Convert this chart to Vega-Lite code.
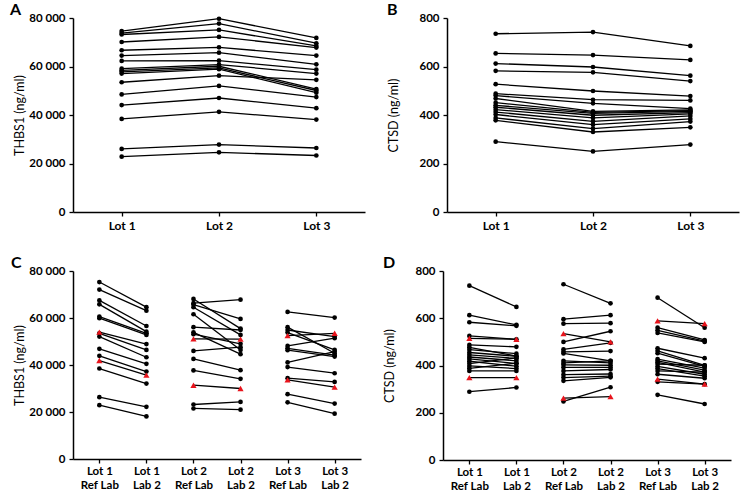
{
  "$schema": "https://vega.github.io/schema/vega-lite/v6.json",
  "padding": {"left": 10, "top": 2, "right": 5, "bottom": 0},
  "background": "white",
  "config": {
    "view": {"stroke": null},
    "font": "Lato",
    "axis": {"domainColor": "black", "tickColor": "black", "domainWidth": 1.5, "tickWidth": 1.3, "tickSize": 4, "labelColor": "black", "labelFont": "Lato", "labelFontWeight": "bold", "labelFontSize": 11.5, "titleFont": "Lato", "titleFontWeight": "normal", "titleFontSize": 12.5, "titleColor": "black", "grid": false, "labelPadding": 4},
    "axisX": {"labelFontSize": 12},
    "title": {"anchor": "start", "frame": "group", "fontSize": 16, "fontWeight": "bold", "color": "black", "font": "Lato", "offset": -6}
  },
  "datasets": {
    "A": [
      {"l":1,"x":"Lot 1","v":74600},{"l":1,"x":"Lot 2","v":79700},{"l":1,"x":"Lot 3","v":71800},
      {"l":2,"x":"Lot 1","v":73800},{"l":2,"x":"Lot 2","v":77700},{"l":2,"x":"Lot 3","v":69600},
      {"l":3,"x":"Lot 1","v":73200},{"l":3,"x":"Lot 2","v":75100},{"l":3,"x":"Lot 3","v":68500},
      {"l":4,"x":"Lot 1","v":70100},{"l":4,"x":"Lot 2","v":72200},{"l":4,"x":"Lot 3","v":67800},
      {"l":5,"x":"Lot 1","v":66700},{"l":5,"x":"Lot 2","v":67900},{"l":5,"x":"Lot 3","v":64500},
      {"l":6,"x":"Lot 1","v":64500},{"l":6,"x":"Lot 2","v":65700},{"l":6,"x":"Lot 3","v":60900},
      {"l":7,"x":"Lot 1","v":62300},{"l":7,"x":"Lot 2","v":62400},{"l":7,"x":"Lot 3","v":58700},
      {"l":8,"x":"Lot 1","v":59100},{"l":8,"x":"Lot 2","v":60800},{"l":8,"x":"Lot 3","v":57100},
      {"l":9,"x":"Lot 1","v":58400},{"l":9,"x":"Lot 2","v":60100},{"l":9,"x":"Lot 3","v":50700},
      {"l":10,"x":"Lot 1","v":57800},{"l":10,"x":"Lot 2","v":59400},{"l":10,"x":"Lot 3","v":50100},
      {"l":11,"x":"Lot 1","v":57100},{"l":11,"x":"Lot 2","v":58900},{"l":11,"x":"Lot 3","v":49200},
      {"l":12,"x":"Lot 1","v":53500},{"l":12,"x":"Lot 2","v":56200},{"l":12,"x":"Lot 3","v":54500},
      {"l":13,"x":"Lot 1","v":48500},{"l":13,"x":"Lot 2","v":52000},{"l":13,"x":"Lot 3","v":47400},
      {"l":14,"x":"Lot 1","v":44100},{"l":14,"x":"Lot 2","v":47000},{"l":14,"x":"Lot 3","v":42800},
      {"l":15,"x":"Lot 1","v":38400},{"l":15,"x":"Lot 2","v":41300},{"l":15,"x":"Lot 3","v":38100},
      {"l":16,"x":"Lot 1","v":26000},{"l":16,"x":"Lot 2","v":27800},{"l":16,"x":"Lot 3","v":26400},
      {"l":17,"x":"Lot 1","v":22800},{"l":17,"x":"Lot 2","v":24600},{"l":17,"x":"Lot 3","v":23300}
    ],
    "B": [
      {"l":1,"x":"Lot 1","v":735},{"l":1,"x":"Lot 2","v":742},{"l":1,"x":"Lot 3","v":685},
      {"l":2,"x":"Lot 1","v":654},{"l":2,"x":"Lot 2","v":647},{"l":2,"x":"Lot 3","v":627},
      {"l":3,"x":"Lot 1","v":612},{"l":3,"x":"Lot 2","v":598},{"l":3,"x":"Lot 3","v":562},
      {"l":4,"x":"Lot 1","v":582},{"l":4,"x":"Lot 2","v":576},{"l":4,"x":"Lot 3","v":540},
      {"l":5,"x":"Lot 1","v":527},{"l":5,"x":"Lot 2","v":499},{"l":5,"x":"Lot 3","v":478},
      {"l":6,"x":"Lot 1","v":488},{"l":6,"x":"Lot 2","v":463},{"l":6,"x":"Lot 3","v":460},
      {"l":7,"x":"Lot 1","v":480},{"l":7,"x":"Lot 2","v":448},{"l":7,"x":"Lot 3","v":426},
      {"l":8,"x":"Lot 1","v":468},{"l":8,"x":"Lot 2","v":415},{"l":8,"x":"Lot 3","v":421},
      {"l":9,"x":"Lot 1","v":451},{"l":9,"x":"Lot 2","v":411},{"l":9,"x":"Lot 3","v":418},
      {"l":10,"x":"Lot 1","v":440},{"l":10,"x":"Lot 2","v":407},{"l":10,"x":"Lot 3","v":415},
      {"l":11,"x":"Lot 1","v":432},{"l":11,"x":"Lot 2","v":399},{"l":11,"x":"Lot 3","v":410},
      {"l":12,"x":"Lot 1","v":422},{"l":12,"x":"Lot 2","v":388},{"l":12,"x":"Lot 3","v":405},
      {"l":13,"x":"Lot 1","v":412},{"l":13,"x":"Lot 2","v":374},{"l":13,"x":"Lot 3","v":396},
      {"l":14,"x":"Lot 1","v":402},{"l":14,"x":"Lot 2","v":360},{"l":14,"x":"Lot 3","v":384},
      {"l":15,"x":"Lot 1","v":388},{"l":15,"x":"Lot 2","v":344},{"l":15,"x":"Lot 3","v":373},
      {"l":16,"x":"Lot 1","v":378},{"l":16,"x":"Lot 2","v":330},{"l":16,"x":"Lot 3","v":349},
      {"l":17,"x":"Lot 1","v":290},{"l":17,"x":"Lot 2","v":250},{"l":17,"x":"Lot 3","v":278}
    ],
    "C": [
      {"l":"1-1","x":"Lot 1|Ref Lab","v":75300},{"l":"1-1","x":"Lot 1|Lab 2","v":64600},
      {"l":"1-2","x":"Lot 1|Ref Lab","v":72100},{"l":"1-2","x":"Lot 1|Lab 2","v":63100},
      {"l":"1-3","x":"Lot 1|Ref Lab","v":67500},{"l":"1-3","x":"Lot 1|Lab 2","v":56600},
      {"l":"1-4","x":"Lot 1|Ref Lab","v":65800},{"l":"1-4","x":"Lot 1|Lab 2","v":54200},
      {"l":"1-5","x":"Lot 1|Ref Lab","v":60600},{"l":"1-5","x":"Lot 1|Lab 2","v":53500},
      {"l":"1-6","x":"Lot 1|Ref Lab","v":59900},{"l":"1-6","x":"Lot 1|Lab 2","v":52800},
      {"l":"1-7","x":"Lot 1|Ref Lab","v":54000,"f":1},{"l":"1-7","x":"Lot 1|Lab 2","v":48900},
      {"l":"1-8","x":"Lot 1|Ref Lab","v":53500},{"l":"1-8","x":"Lot 1|Lab 2","v":46400},
      {"l":"1-9","x":"Lot 1|Ref Lab","v":52100},{"l":"1-9","x":"Lot 1|Lab 2","v":43300},
      {"l":"1-10","x":"Lot 1|Ref Lab","v":46900},{"l":"1-10","x":"Lot 1|Lab 2","v":40500},
      {"l":"1-11","x":"Lot 1|Ref Lab","v":43900},{"l":"1-11","x":"Lot 1|Lab 2","v":37200},
      {"l":"1-12","x":"Lot 1|Ref Lab","v":41900,"f":1},{"l":"1-12","x":"Lot 1|Lab 2","v":35700,"f":1},
      {"l":"1-13","x":"Lot 1|Ref Lab","v":38500},{"l":"1-13","x":"Lot 1|Lab 2","v":32100},
      {"l":"1-14","x":"Lot 1|Ref Lab","v":26300},{"l":"1-14","x":"Lot 1|Lab 2","v":22200},
      {"l":"1-15","x":"Lot 1|Ref Lab","v":22900},{"l":"1-15","x":"Lot 1|Lab 2","v":18100},
      {"l":"2-1","x":"Lot 2|Ref Lab","v":68100},{"l":"2-1","x":"Lot 2|Lab 2","v":55500},
      {"l":"2-2","x":"Lot 2|Ref Lab","v":66300},{"l":"2-2","x":"Lot 2|Lab 2","v":67800},
      {"l":"2-3","x":"Lot 2|Ref Lab","v":65700},{"l":"2-3","x":"Lot 2|Lab 2","v":59600},
      {"l":"2-4","x":"Lot 2|Ref Lab","v":64600},{"l":"2-4","x":"Lot 2|Lab 2","v":52800},
      {"l":"2-5","x":"Lot 2|Ref Lab","v":61600},{"l":"2-5","x":"Lot 2|Lab 2","v":46400},
      {"l":"2-6","x":"Lot 2|Ref Lab","v":56100},{"l":"2-6","x":"Lot 2|Lab 2","v":54900},
      {"l":"2-7","x":"Lot 2|Ref Lab","v":53900},{"l":"2-7","x":"Lot 2|Lab 2","v":44600},
      {"l":"2-8","x":"Lot 2|Ref Lab","v":53100},{"l":"2-8","x":"Lot 2|Lab 2","v":49000},
      {"l":"2-9","x":"Lot 2|Ref Lab","v":51100,"f":1},{"l":"2-9","x":"Lot 2|Lab 2","v":51000,"f":1},
      {"l":"2-10","x":"Lot 2|Ref Lab","v":46000},{"l":"2-10","x":"Lot 2|Lab 2","v":47600},
      {"l":"2-11","x":"Lot 2|Ref Lab","v":42600},{"l":"2-11","x":"Lot 2|Lab 2","v":37800},
      {"l":"2-12","x":"Lot 2|Ref Lab","v":37700},{"l":"2-12","x":"Lot 2|Lab 2","v":34100},
      {"l":"2-13","x":"Lot 2|Ref Lab","v":31400,"f":1},{"l":"2-13","x":"Lot 2|Lab 2","v":30000,"f":1},
      {"l":"2-14","x":"Lot 2|Ref Lab","v":23200},{"l":"2-14","x":"Lot 2|Lab 2","v":24300},
      {"l":"2-15","x":"Lot 2|Ref Lab","v":21500},{"l":"2-15","x":"Lot 2|Lab 2","v":21000},
      {"l":"3-1","x":"Lot 3|Ref Lab","v":62600},{"l":"3-1","x":"Lot 3|Lab 2","v":60200},
      {"l":"3-2","x":"Lot 3|Ref Lab","v":56100},{"l":"3-2","x":"Lot 3|Lab 2","v":45000},
      {"l":"3-3","x":"Lot 3|Ref Lab","v":54900},{"l":"3-3","x":"Lot 3|Lab 2","v":52100},
      {"l":"3-4","x":"Lot 3|Ref Lab","v":53800},{"l":"3-4","x":"Lot 3|Lab 2","v":46400},
      {"l":"3-5","x":"Lot 3|Ref Lab","v":52500,"f":1},{"l":"3-5","x":"Lot 3|Lab 2","v":53500,"f":1},
      {"l":"3-6","x":"Lot 3|Ref Lab","v":48100},{"l":"3-6","x":"Lot 3|Lab 2","v":51400},
      {"l":"3-7","x":"Lot 3|Ref Lab","v":47100},{"l":"3-7","x":"Lot 3|Lab 2","v":44200},
      {"l":"3-8","x":"Lot 3|Ref Lab","v":46300},{"l":"3-8","x":"Lot 3|Lab 2","v":43600},
      {"l":"3-9","x":"Lot 3|Ref Lab","v":41100},{"l":"3-9","x":"Lot 3|Lab 2","v":45700},
      {"l":"3-10","x":"Lot 3|Ref Lab","v":39100},{"l":"3-10","x":"Lot 3|Lab 2","v":36500},
      {"l":"3-11","x":"Lot 3|Ref Lab","v":34400},{"l":"3-11","x":"Lot 3|Lab 2","v":32800},
      {"l":"3-12","x":"Lot 3|Ref Lab","v":33700,"f":1},{"l":"3-12","x":"Lot 3|Lab 2","v":30600,"f":1},
      {"l":"3-13","x":"Lot 3|Ref Lab","v":27600},{"l":"3-13","x":"Lot 3|Lab 2","v":23600},
      {"l":"3-14","x":"Lot 3|Ref Lab","v":24100},{"l":"3-14","x":"Lot 3|Lab 2","v":19300}
    ],
    "D": [
      {"l":"1-1","x":"Lot 1|Ref Lab","v":738},{"l":"1-1","x":"Lot 1|Lab 2","v":648},
      {"l":"1-2","x":"Lot 1|Ref Lab","v":613},{"l":"1-2","x":"Lot 1|Lab 2","v":572},
      {"l":"1-3","x":"Lot 1|Ref Lab","v":583},{"l":"1-3","x":"Lot 1|Lab 2","v":568},
      {"l":"1-4","x":"Lot 1|Ref Lab","v":525},{"l":"1-4","x":"Lot 1|Lab 2","v":511},
      {"l":"1-5","x":"Lot 1|Ref Lab","v":515,"f":1},{"l":"1-5","x":"Lot 1|Lab 2","v":511,"f":1},
      {"l":"1-6","x":"Lot 1|Ref Lab","v":487},{"l":"1-6","x":"Lot 1|Lab 2","v":479},
      {"l":"1-7","x":"Lot 1|Ref Lab","v":477},{"l":"1-7","x":"Lot 1|Lab 2","v":440},
      {"l":"1-8","x":"Lot 1|Ref Lab","v":467},{"l":"1-8","x":"Lot 1|Lab 2","v":450},
      {"l":"1-9","x":"Lot 1|Ref Lab","v":455},{"l":"1-9","x":"Lot 1|Lab 2","v":439},
      {"l":"1-10","x":"Lot 1|Ref Lab","v":445},{"l":"1-10","x":"Lot 1|Lab 2","v":430},
      {"l":"1-11","x":"Lot 1|Ref Lab","v":436},{"l":"1-11","x":"Lot 1|Lab 2","v":420},
      {"l":"1-12","x":"Lot 1|Ref Lab","v":428},{"l":"1-12","x":"Lot 1|Lab 2","v":408},
      {"l":"1-13","x":"Lot 1|Ref Lab","v":418},{"l":"1-13","x":"Lot 1|Lab 2","v":397},
      {"l":"1-14","x":"Lot 1|Ref Lab","v":408},{"l":"1-14","x":"Lot 1|Lab 2","v":432},
      {"l":"1-15","x":"Lot 1|Ref Lab","v":398},{"l":"1-15","x":"Lot 1|Lab 2","v":387},
      {"l":"1-16","x":"Lot 1|Ref Lab","v":388},{"l":"1-16","x":"Lot 1|Lab 2","v":410},
      {"l":"1-17","x":"Lot 1|Ref Lab","v":377},{"l":"1-17","x":"Lot 1|Lab 2","v":377},
      {"l":"1-18","x":"Lot 1|Ref Lab","v":349,"f":1},{"l":"1-18","x":"Lot 1|Lab 2","v":349,"f":1},
      {"l":"1-19","x":"Lot 1|Ref Lab","v":289},{"l":"1-19","x":"Lot 1|Lab 2","v":307},
      {"l":"2-1","x":"Lot 2|Ref Lab","v":744},{"l":"2-1","x":"Lot 2|Lab 2","v":663},
      {"l":"2-2","x":"Lot 2|Ref Lab","v":596},{"l":"2-2","x":"Lot 2|Lab 2","v":613},
      {"l":"2-3","x":"Lot 2|Ref Lab","v":577},{"l":"2-3","x":"Lot 2|Lab 2","v":579},
      {"l":"2-4","x":"Lot 2|Ref Lab","v":535,"f":1},{"l":"2-4","x":"Lot 2|Lab 2","v":500,"f":1},
      {"l":"2-5","x":"Lot 2|Ref Lab","v":500},{"l":"2-5","x":"Lot 2|Lab 2","v":545},
      {"l":"2-6","x":"Lot 2|Ref Lab","v":468},{"l":"2-6","x":"Lot 2|Lab 2","v":496},
      {"l":"2-7","x":"Lot 2|Ref Lab","v":458},{"l":"2-7","x":"Lot 2|Lab 2","v":461},
      {"l":"2-8","x":"Lot 2|Ref Lab","v":451},{"l":"2-8","x":"Lot 2|Lab 2","v":420},
      {"l":"2-9","x":"Lot 2|Ref Lab","v":420},{"l":"2-9","x":"Lot 2|Lab 2","v":411},
      {"l":"2-10","x":"Lot 2|Ref Lab","v":411},{"l":"2-10","x":"Lot 2|Lab 2","v":420},
      {"l":"2-11","x":"Lot 2|Ref Lab","v":403},{"l":"2-11","x":"Lot 2|Lab 2","v":401},
      {"l":"2-12","x":"Lot 2|Ref Lab","v":392},{"l":"2-12","x":"Lot 2|Lab 2","v":392},
      {"l":"2-13","x":"Lot 2|Ref Lab","v":377},{"l":"2-13","x":"Lot 2|Lab 2","v":383},
      {"l":"2-14","x":"Lot 2|Ref Lab","v":361},{"l":"2-14","x":"Lot 2|Lab 2","v":364},
      {"l":"2-15","x":"Lot 2|Ref Lab","v":349},{"l":"2-15","x":"Lot 2|Lab 2","v":355},
      {"l":"2-16","x":"Lot 2|Ref Lab","v":335},{"l":"2-16","x":"Lot 2|Lab 2","v":350},
      {"l":"2-17","x":"Lot 2|Ref Lab","v":262,"f":1},{"l":"2-17","x":"Lot 2|Lab 2","v":268,"f":1},
      {"l":"2-18","x":"Lot 2|Ref Lab","v":248},{"l":"2-18","x":"Lot 2|Lab 2","v":308},
      {"l":"3-1","x":"Lot 3|Ref Lab","v":687},{"l":"3-1","x":"Lot 3|Lab 2","v":560},
      {"l":"3-2","x":"Lot 3|Ref Lab","v":589,"f":1},{"l":"3-2","x":"Lot 3|Lab 2","v":577,"f":1},
      {"l":"3-3","x":"Lot 3|Ref Lab","v":560},{"l":"3-3","x":"Lot 3|Lab 2","v":508},
      {"l":"3-4","x":"Lot 3|Ref Lab","v":549},{"l":"3-4","x":"Lot 3|Lab 2","v":503},
      {"l":"3-5","x":"Lot 3|Ref Lab","v":538},{"l":"3-5","x":"Lot 3|Lab 2","v":500},
      {"l":"3-6","x":"Lot 3|Ref Lab","v":473},{"l":"3-6","x":"Lot 3|Lab 2","v":431},
      {"l":"3-7","x":"Lot 3|Ref Lab","v":462},{"l":"3-7","x":"Lot 3|Lab 2","v":401},
      {"l":"3-8","x":"Lot 3|Ref Lab","v":452},{"l":"3-8","x":"Lot 3|Lab 2","v":396},
      {"l":"3-9","x":"Lot 3|Ref Lab","v":427},{"l":"3-9","x":"Lot 3|Lab 2","v":389},
      {"l":"3-10","x":"Lot 3|Ref Lab","v":420},{"l":"3-10","x":"Lot 3|Lab 2","v":380},
      {"l":"3-11","x":"Lot 3|Ref Lab","v":413},{"l":"3-11","x":"Lot 3|Lab 2","v":372},
      {"l":"3-12","x":"Lot 3|Ref Lab","v":406},{"l":"3-12","x":"Lot 3|Lab 2","v":401},
      {"l":"3-13","x":"Lot 3|Ref Lab","v":396},{"l":"3-13","x":"Lot 3|Lab 2","v":363},
      {"l":"3-14","x":"Lot 3|Ref Lab","v":387},{"l":"3-14","x":"Lot 3|Lab 2","v":355},
      {"l":"3-15","x":"Lot 3|Ref Lab","v":377},{"l":"3-15","x":"Lot 3|Lab 2","v":372},
      {"l":"3-16","x":"Lot 3|Ref Lab","v":363},{"l":"3-16","x":"Lot 3|Lab 2","v":346},
      {"l":"3-17","x":"Lot 3|Ref Lab","v":342,"f":1},{"l":"3-17","x":"Lot 3|Lab 2","v":321,"f":1},
      {"l":"3-18","x":"Lot 3|Ref Lab","v":331},{"l":"3-18","x":"Lot 3|Lab 2","v":321},
      {"l":"3-19","x":"Lot 3|Ref Lab","v":276},{"l":"3-19","x":"Lot 3|Lab 2","v":237}
    ]
  },
  "vconcat": [
    {
      "hconcat": [
        {
          "title": {"text": "A", "dx": -63},
          "width": 292, "height": 194,
          "data": {"name": "A"},
          "encoding": {
            "x": {"field": "x", "type": "ordinal", "scale": {"type": "point", "padding": 0.5, "domain": ["Lot 1", "Lot 2", "Lot 3"]}, "axis": {"title": null, "labelAngle": 0}},
            "y": {"field": "v", "type": "quantitative", "scale": {"domain": [0, 80000], "nice": false}, "axis": {"title": "THBS1 (ng/ml)", "values": [0, 20000, 40000, 60000, 80000], "labelExpr": "replace(format(datum.value, ','), ',', ' ')", "titleX": -47}}
          },
          "layer": [
            {"mark": {"type": "line", "color": "black", "strokeWidth": 1.3}, "encoding": {"detail": {"field": "l"}}},
            {"mark": {"type": "circle", "color": "black", "size": 22, "opacity": 1}}
          ]
        },
        {
          "title": {"text": "B", "dx": -60},
          "width": 292, "height": 194,
          "data": {"name": "B"},
          "encoding": {
            "x": {"field": "x", "type": "ordinal", "scale": {"type": "point", "padding": 0.5, "domain": ["Lot 1", "Lot 2", "Lot 3"]}, "axis": {"title": null, "labelAngle": 0}},
            "y": {"field": "v", "type": "quantitative", "scale": {"domain": [0, 800], "nice": false}, "axis": {"title": "CTSD (ng/ml)", "values": [0, 200, 400, 600, 800], "titleX": -47}}
          },
          "layer": [
            {"mark": {"type": "line", "color": "black", "strokeWidth": 1.3}, "encoding": {"detail": {"field": "l"}}},
            {"mark": {"type": "circle", "color": "black", "size": 22, "opacity": 1}}
          ]
        }
      ],
      "spacing": 22
    },
    {
      "hconcat": [
        {
          "title": {"text": "C", "dx": -62},
          "width": 288, "height": 188,
          "data": {"name": "C"},
          "encoding": {
            "x": {"field": "x", "type": "ordinal", "scale": {"type": "point", "padding": 0.56, "domain": ["Lot 1|Ref Lab", "Lot 1|Lab 2", "Lot 2|Ref Lab", "Lot 2|Lab 2", "Lot 3|Ref Lab", "Lot 3|Lab 2"]}, "axis": {"title": null, "labelAngle": 0, "labelExpr": "split(datum.label, '|')", "labelLineHeight": 14, "labelFontSize": 11.5, "labelPadding": 2}},
            "y": {"field": "v", "type": "quantitative", "scale": {"domain": [0, 80000], "nice": false}, "axis": {"title": "THBS1 (ng/ml)", "values": [0, 20000, 40000, 60000, 80000], "labelExpr": "replace(format(datum.value, ','), ',', ' ')", "titleX": -47}}
          },
          "layer": [
            {"mark": {"type": "line", "color": "black", "strokeWidth": 1.3}, "encoding": {"detail": {"field": "l"}}},
            {"transform": [{"filter": "datum.f != 1"}], "mark": {"type": "circle", "color": "black", "size": 22, "opacity": 1}},
            {"transform": [{"filter": "datum.f == 1"}], "mark": {"type": "point", "shape": "triangle-up", "filled": true, "color": "#e8141c", "size": 38, "opacity": 1}}
          ]
        },
        {
          "title": {"text": "D", "dx": -60},
          "width": 288, "height": 189,
          "data": {"name": "D"},
          "encoding": {
            "x": {"field": "x", "type": "ordinal", "scale": {"type": "point", "padding": 0.56, "domain": ["Lot 1|Ref Lab", "Lot 1|Lab 2", "Lot 2|Ref Lab", "Lot 2|Lab 2", "Lot 3|Ref Lab", "Lot 3|Lab 2"]}, "axis": {"title": null, "labelAngle": 0, "labelExpr": "split(datum.label, '|')", "labelLineHeight": 14, "labelFontSize": 11.5, "labelPadding": 2}},
            "y": {"field": "v", "type": "quantitative", "scale": {"domain": [0, 800], "nice": false}, "axis": {"title": "CTSD (ng/ml)", "values": [0, 200, 400, 600, 800], "titleX": -47}}
          },
          "layer": [
            {"mark": {"type": "line", "color": "black", "strokeWidth": 1.3}, "encoding": {"detail": {"field": "l"}}},
            {"transform": [{"filter": "datum.f != 1"}], "mark": {"type": "circle", "color": "black", "size": 22, "opacity": 1}},
            {"transform": [{"filter": "datum.f == 1"}], "mark": {"type": "point", "shape": "triangle-up", "filled": true, "color": "#e8141c", "size": 38, "opacity": 1}}
          ]
        }
      ],
      "spacing": 22
    }
  ],
  "spacing": 24
}
